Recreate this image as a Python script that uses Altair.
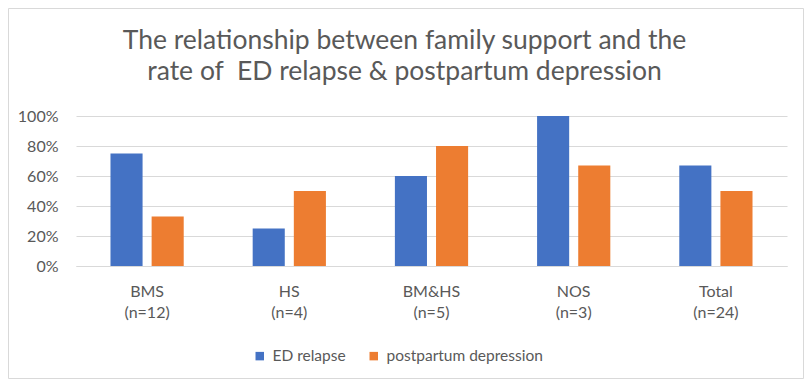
import altair as alt
import pandas as pd

categories = ["BMS|(n=12)", "HS|(n=4)", "BM&HS|(n=5)", "NOS|(n=3)", "Total|(n=24)"]
series = ["ED relapse", "postpartum depression"]
ed_relapse = [0.75, 0.25, 0.60, 1.00, 0.67]
postpartum = [0.33, 0.50, 0.80, 0.67, 0.50]
colors = ["#4472C4", "#ED7D31"]

rows = []
for c, a, b in zip(categories, ed_relapse, postpartum):
    rows.append({"cat": c, "series": series[0], "value": a})
    rows.append({"cat": c, "series": series[1], "value": b})
df = pd.DataFrame(rows)

FONT = "Lato"
GREY = "#595959"

bars = alt.Chart(df).mark_bar().encode(
    x=alt.X("cat:N", sort=categories, title=None,
            scale=alt.Scale(paddingInner=0.485, paddingOuter=0.2425),
            axis=alt.Axis(labelAngle=0, labelExpr="split(datum.label, '|')",
                          labelLineHeight=21.5, labelFontSize=16, labelColor=GREY,
                          labelFont=FONT, ticks=False, domainColor="#d9d9d9",
                          labelPadding=17)),
    xOffset=alt.XOffset("series:N", sort=series,
                        scale=alt.Scale(paddingInner=0.22, paddingOuter=0)),
    y=alt.Y("value:Q", title=None,
            scale=alt.Scale(domain=[0, 1]),
            axis=alt.Axis(values=[0, 0.2, 0.4, 0.6, 0.8, 1.0], format=".0%",
                          labelFontSize=16, labelColor=GREY, labelFont=FONT,
                          ticks=False, domain=False, gridColor="#d9d9d9",
                          labelPadding=18)),
    color=alt.Color("series:N", sort=series,
                    scale=alt.Scale(domain=series, range=colors),
                    legend=alt.Legend(title=None, orient="none", direction="horizontal",
                                      legendX=176, legendY=232, symbolType="square",
                                      symbolSize=72, labelFontSize=15.5, labelColor=GREY,
                                      labelFont=FONT, columnPadding=20, padding=0,
                                      labelOffset=5, labelLimit=400,
                                      symbolStrokeWidth=0)),
)

border = alt.Chart(pd.DataFrame({"a": [0]})).mark_rect(
    fill="transparent", stroke="#d9d9d9", strokeWidth=1
).encode(
    x=alt.value(-67.5), x2=alt.value(727.5), y=alt.value(-107.5), y2=alt.value(262.5)
)

chart = alt.layer(border, bars).properties(
    width=711, height=150,
    autosize=alt.AutoSizeParams(type="none"),
    padding={"left": 68, "top": 108, "right": 17, "bottom": 113},
    title=alt.Title(["The relationship between family support and the",
                     "rate of \u00a0ED relapse & postpartum depression"],
                    fontSize=26.5, font=FONT, color=GREY, fontWeight="normal",
                    lineHeight=31, anchor="middle", dx=-27, offset=0, dy=77),
).configure_view(stroke=None)

chart.save("out.html", embed_options={"renderer": "svg", "actions": False})
